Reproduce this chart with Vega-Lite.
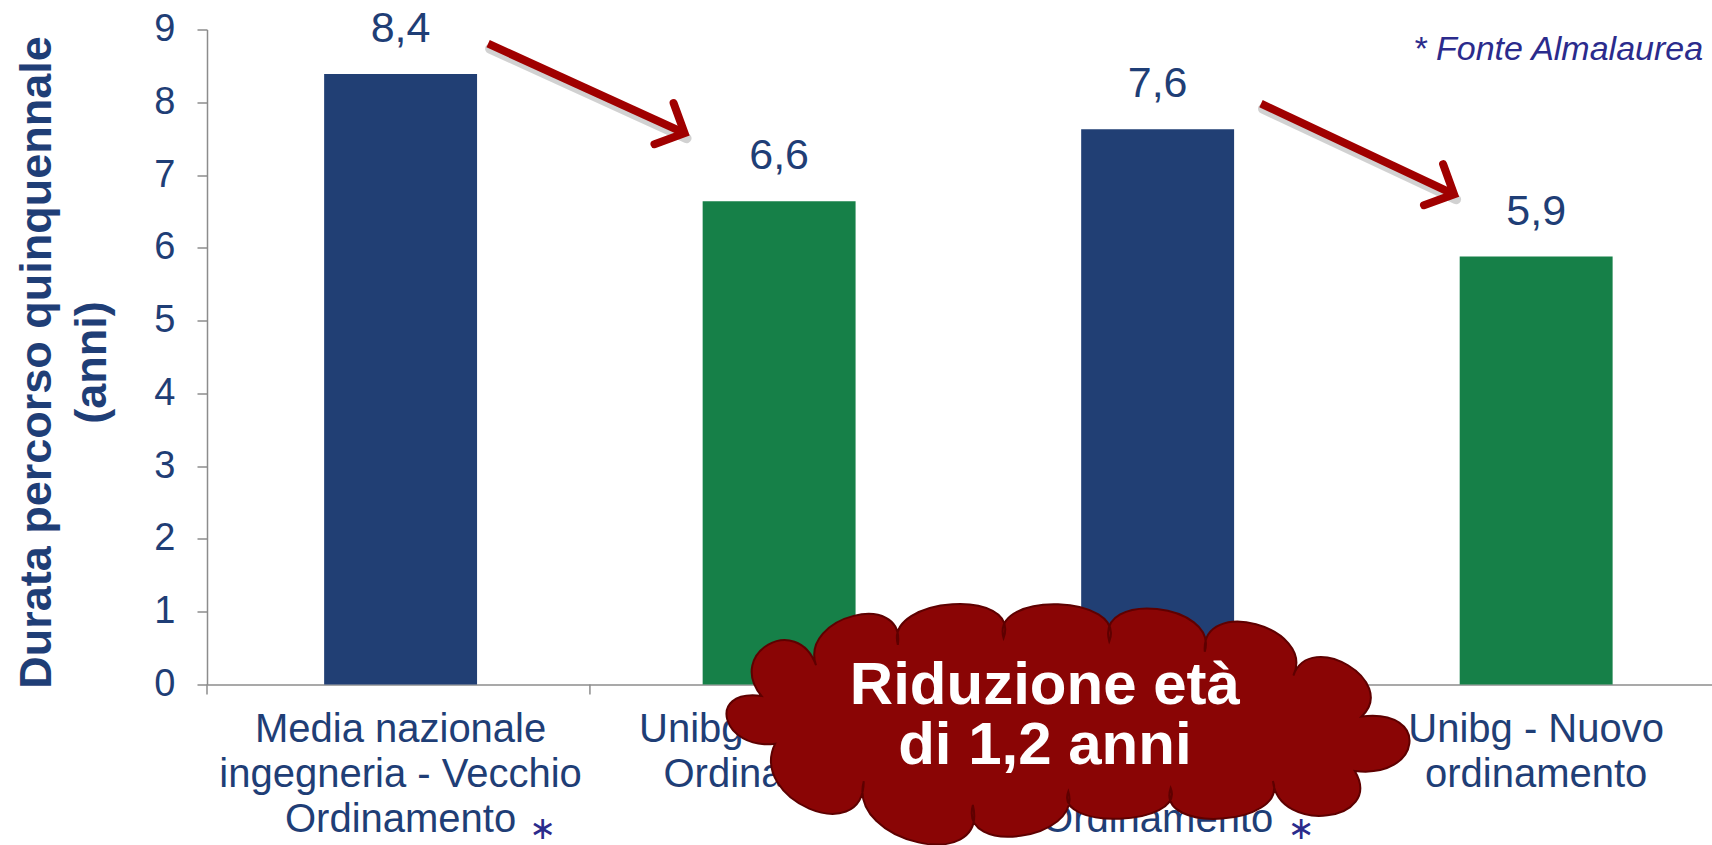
{
  "$schema": "https://vega.github.io/schema/vega-lite/v6.json",
  "width": 1505,
  "height": 655,
  "autosize": {"type": "none"},
  "padding": {"left": 207, "top": 29.5, "right": 0, "bottom": 160.5},
  "background": "white",
  "config": {"view": {"stroke": null}, "font": "Liberation Sans"},
  "datasets": {
    "bars": [
      {"categoria": "Media nazionale\ningegneria - Vecchio\nOrdinamento", "anni": 8.39, "etichetta": "8,4", "fonte": "Media nazionale"},
      {"categoria": "Unibg - Vecchio\nOrdinamento", "anni": 6.64, "etichetta": "6,6", "fonte": "Unibg"},
      {"categoria": "Media nazionale\ningegneria - Nuovo\nOrdinamento", "anni": 7.63, "etichetta": "7,6", "fonte": "Media nazionale"},
      {"categoria": "Unibg - Nuovo\nordinamento", "anni": 5.88, "etichetta": "5,9", "fonte": "Unibg"}
    ],
    "tacche": [
      {"u": 0.4883, "v": 0, "v2": -0.137},
      {"u": 1.5, "v": 0, "v2": -0.137},
      {"u": 2.5, "v": 0, "v2": -0.137},
      {"u": 3.5, "v": 0, "v2": -0.137}
    ],
    "frecce": [
      {"u": 1.231, "v": 8.805, "u2": 1.75, "v2": 7.575},
      {"u": 3.273, "v": 7.98, "u2": 3.783, "v2": 6.736}
    ],
    "nuvola": [{"u": 2.764, "v": -0.532}],
    "testoNuvola": [{"u": 2.702, "v": -0.2665, "testo": "Riduzione età\ndi 1,2 anni"}],
    "nota": [{"u": 4.441, "v": 8.581, "testo": "* Fonte Almalaurea"}],
    "asterischi": [{"u": 1.375, "v": -1.98, "testo": "∗"}, {"u": 3.379, "v": -1.98, "testo": "∗"}]
  },
  "resolve": {"scale": {"x": "independent", "y": "independent"}},
  "layer": [
    {
      "data": {"name": "bars"},
      "mark": {"type": "bar"},
      "encoding": {
        "x": {
          "field": "categoria", "type": "nominal", "sort": null,
          "scale": {"type": "band", "paddingInner": 0.596, "paddingOuter": 0.286, "align": 0.541},
          "axis": {
            "title": null, "labelAngle": 0, "labelExpr": "split(datum.label, '\\n')",
            "labelFontSize": 40, "labelLineHeight": 45, "labelColor": "#1F3E76", "labelFont": "Liberation Sans",
            "labelPadding": 25, "labelLimit": 0, "labelOverlap": false, "labelBound": false,
            "ticks": false, "tickSize": 10,
            "domainColor": "#8C8C8C", "domainWidth": 1.5, "grid": false
          }
        },
        "y": {
          "field": "anni", "type": "quantitative",
          "scale": {"domain": [0, 9], "nice": false, "zero": true},
          "axis": {
            "values": [0, 1, 2, 3, 4, 5, 6, 7, 8, 9], "grid": false,
            "tickSize": 10, "tickColor": "#8C8C8C", "tickWidth": 1.5,
            "domainColor": "#8C8C8C", "domainWidth": 1.5,
            "labelFontSize": 38, "labelColor": "#1F3E76", "labelPadding": 22, "labelFont": "Liberation Sans",
            "title": ["Durata percorso quinquennale", "(anni)"],
            "titleFontSize": 45, "titleFontWeight": "bold", "titleColor": "#1F3E76", "titleFont": "Liberation Sans",
            "titleX": -157, "titleY": 332.5, "titleAngle": -90, "titleAlign": "center",
            "titleBaseline": "alphabetic", "titleLineHeight": 55
          }
        },
        "color": {
          "field": "fonte", "type": "nominal",
          "scale": {"domain": ["Media nazionale", "Unibg"], "range": ["#213F74", "#168048"]},
          "legend": null
        }
      }
    },
    {
      "data": {"name": "bars"},
      "mark": {"type": "text", "dy": -32, "baseline": "alphabetic", "align": "center", "fontSize": 43, "color": "#1F3E76", "font": "Liberation Sans"},
      "encoding": {
        "x": {"field": "categoria", "type": "nominal", "sort": null,
              "scale": {"type": "band", "paddingInner": 0.596, "paddingOuter": 0.286, "align": 0.541}, "axis": null},
        "y": {"field": "anni", "type": "quantitative", "scale": {"domain": [0, 9], "nice": false}, "axis": null},
        "text": {"field": "etichetta"}
      }
    },
    {
      "data": {"name": "tacche"},
      "mark": {"type": "rule", "color": "#8C8C8C", "strokeWidth": 1.5},
      "encoding": {
        "x": {"field": "u", "type": "quantitative", "scale": {"domain": [0.4883, 4.4645], "nice": false, "zero": false}, "axis": null},
        "y": {"field": "v", "type": "quantitative", "scale": {"domain": [0, 9], "nice": false}, "axis": null},
        "y2": {"field": "v2"}
      }
    },
    {
      "data": {"name": "frecce"},
      "mark": {"type": "rule", "color": "#000000", "opacity": 0.18, "strokeWidth": 10, "strokeCap": "round", "xOffset": 2, "x2Offset": 2, "yOffset": 5, "y2Offset": 5},
      "encoding": {
        "x": {"field": "u", "type": "quantitative", "scale": {"domain": [0.4883, 4.4645], "nice": false, "zero": false}, "axis": null},
        "x2": {"field": "u2"},
        "y": {"field": "v", "type": "quantitative", "scale": {"domain": [0, 9], "nice": false}, "axis": null},
        "y2": {"field": "v2"}
      }
    },
    {
      "data": {"name": "frecce"},
      "mark": {"type": "rule", "color": "#A00000", "strokeWidth": 8, "strokeCap": "butt"},
      "encoding": {
        "x": {"field": "u", "type": "quantitative", "scale": {"domain": [0.4883, 4.4645], "nice": false, "zero": false}, "axis": null},
        "x2": {"field": "u2"},
        "y": {"field": "v", "type": "quantitative", "scale": {"domain": [0, 9], "nice": false}, "axis": null},
        "y2": {"field": "v2"}
      }
    },
    {
      "data": {"name": "frecce"},
      "mark": {"type": "point", "shape": "M-1,-1 L0,0 L-1,1", "filled": false, "size": 2050, "angle": 25, "stroke": "#A00000", "strokeWidth": 8, "strokeJoin": "miter", "strokeCap": "round", "opacity": 1},
      "encoding": {
        "x": {"field": "u2", "type": "quantitative", "scale": {"domain": [0.4883, 4.4645], "nice": false, "zero": false}, "axis": null},
        "y": {"field": "v2", "type": "quantitative", "scale": {"domain": [0, 9], "nice": false}, "axis": null}
      }
    },
    {
      "data": {"name": "nuvola"},
      "mark": {"type": "point", "filled": true, "size": 465124, "fill": "#8A0505", "stroke": "#5E0000", "strokeWidth": 2, "opacity": 1,
               "shape": "M-0.86,0.06 C-1.014,0.081,-1.066,-0.101,-0.9,-0.08 C-1.004,-0.207,-0.796,-0.324,-0.74,-0.17 C-0.789,-0.314,-0.477,-0.392,-0.5,-0.23 C-0.54,-0.372,-0.137,-0.398,-0.19,-0.25 C-0.23,-0.39,0.173,-0.377,0.12,-0.24 C0.078,-0.391,0.442,-0.352,0.4,-0.21 C0.388,-0.374,0.726,-0.283,0.66,-0.14 C0.71,-0.278,0.97,-0.122,0.86,-0.02 C1.063,-0.044,1.037,0.164,0.84,0.14 C0.929,0.289,0.617,0.328,0.6,0.17 C0.645,0.3,0.255,0.326,0.3,0.19 C0.345,0.302,-0.045,0.315,0,0.2 C0.042,0.341,-0.322,0.393,-0.28,0.24 C-0.232,0.443,-0.648,0.352,-0.6,0.17 C-0.601,0.367,-0.939,0.224,-0.86,0.06 Z"},
      "encoding": {
        "x": {"field": "u", "type": "quantitative", "scale": {"domain": [0.4883, 4.4645], "nice": false, "zero": false}, "axis": null},
        "y": {"field": "v", "type": "quantitative", "scale": {"domain": [0, 9], "nice": false}, "axis": null}
      }
    },
    {
      "data": {"name": "testoNuvola"},
      "mark": {"type": "text", "align": "center", "baseline": "alphabetic", "lineBreak": "\n", "lineHeight": 60, "fontSize": 60, "fontWeight": "bold", "color": "white", "font": "Liberation Sans"},
      "encoding": {
        "x": {"field": "u", "type": "quantitative", "scale": {"domain": [0.4883, 4.4645], "nice": false, "zero": false}, "axis": null},
        "y": {"field": "v", "type": "quantitative", "scale": {"domain": [0, 9], "nice": false}, "axis": null},
        "text": {"field": "testo"}
      }
    },
    {
      "data": {"name": "nota"},
      "mark": {"type": "text", "align": "right", "baseline": "alphabetic", "fontSize": 34, "fontStyle": "italic", "color": "#2B2B8C", "font": "Liberation Sans"},
      "encoding": {
        "x": {"field": "u", "type": "quantitative", "scale": {"domain": [0.4883, 4.4645], "nice": false, "zero": false}, "axis": null},
        "y": {"field": "v", "type": "quantitative", "scale": {"domain": [0, 9], "nice": false}, "axis": null},
        "text": {"field": "testo"}
      }
    },
    {
      "data": {"name": "asterischi"},
      "mark": {"type": "text", "align": "center", "baseline": "middle", "fontSize": 32, "color": "#2B2B8C", "font": "DejaVu Sans"},
      "encoding": {
        "x": {"field": "u", "type": "quantitative", "scale": {"domain": [0.4883, 4.4645], "nice": false, "zero": false}, "axis": null},
        "y": {"field": "v", "type": "quantitative", "scale": {"domain": [0, 9], "nice": false}, "axis": null},
        "text": {"field": "testo"}
      }
    }
  ]
}
